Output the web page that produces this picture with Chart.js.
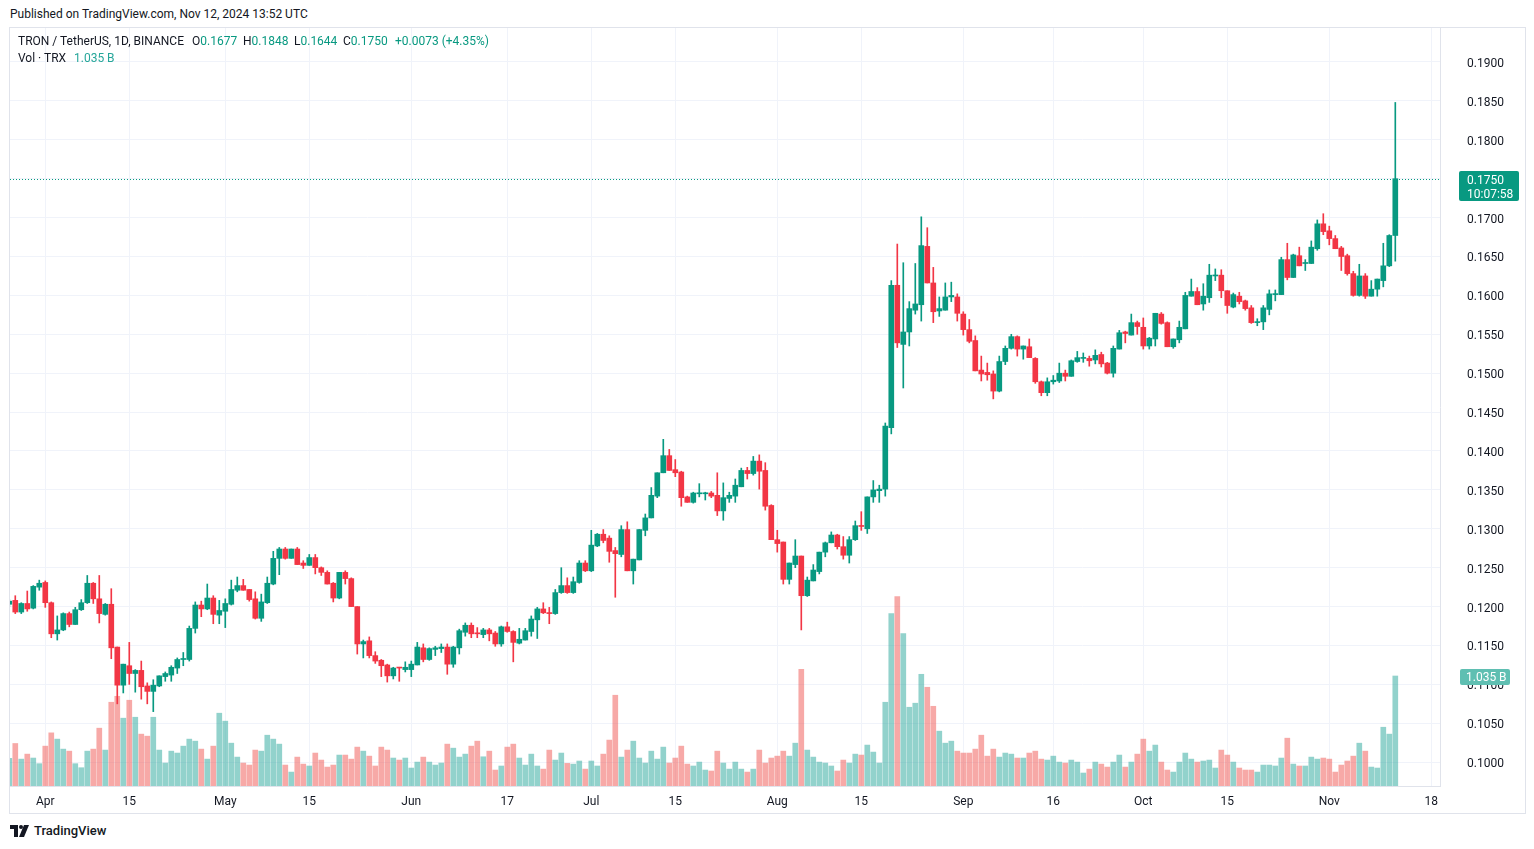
<!DOCTYPE html>
<html>
<head>
<meta charset="utf-8">
<script src="https://cdn.jsdelivr.net/npm/chart.js@4.4.0/dist/chart.umd.min.js"></script>
<style>
  html, body { margin: 0; padding: 0; background: #fff; }
  body { width: 1534px; height: 849px; position: relative; overflow: hidden;
         font-family: Roboto, 'Liberation Sans', sans-serif; color: #131722; }
  #published { position: absolute; left: 10px; top: 6px; font-size: 12px; line-height: 16px; }
  #frame { position: absolute; left: 9px; top: 27px; width: 1517px; height: 787px;
           border: 1px solid #e0e3eb; box-sizing: border-box; }
  #wrap { position: absolute; left: 10px; top: 28px; width: 1515px; height: 785px; }
  .lg { position: absolute; font-size: 12px; line-height: 16px; white-space: nowrap; }
  .g { color: #089981; }
  .v { color: #26a69a; }
  #footer { position: absolute; left: 10px; top: 823px; font-size: 13px; font-weight: 500; line-height: 16px; }
  #footer svg { vertical-align: -2px; margin-right: 4px; }
</style>
</head>
<body>
<div id="published">Published on TradingView.com, Nov 12, 2024 13:52 UTC</div>
<div id="frame"></div>
<div id="wrap"><canvas id="grafico"></canvas></div>

<div class="lg" style="left:18px;top:33px">TRON / TetherUS, 1D, BINANCE</div>
<div class="lg" style="left:192px;top:33px">O<span class="g">0.1677</span></div>
<div class="lg" style="left:243px;top:33px">H<span class="g">0.1848</span></div>
<div class="lg" style="left:294px;top:33px">L<span class="g">0.1644</span></div>
<div class="lg" style="left:343px;top:33px">C<span class="g">0.1750</span></div>
<div class="lg g" style="left:395px;top:33px">+0.0073 (+4.35%)</div>
<div class="lg" style="left:18px;top:50px">Vol · TRX</div>
<div class="lg v" style="left:74px;top:50px">1.035 B</div>

<div id="footer"><svg width="20" height="12" viewBox="0 0 20 12"><path d="M0 0h8v12H4V4H0z" fill="#131722"/><circle cx="11" cy="2" r="2" fill="#131722"/><path d="M14 0h5l-5 12H9z" fill="#131722"/></svg>TradingView</div>

<script>
// daily candles, TRX/USDT, 26 Mar - 12 Nov 2024
const startDate = '2024-03-26';

const opens = [
  0.1203, 0.1208, 0.1193, 0.1204, 0.1198, 0.1225,
  0.1231, 0.1205, 0.1165, 0.1170, 0.1191, 0.1177, 0.1196, 0.1205, 0.1230, 0.1210,
  0.1190, 0.1203, 0.1148, 0.1099, 0.1124, 0.1114, 0.1118, 0.1098, 0.1091, 0.1098,
  0.1110, 0.1112, 0.1121, 0.1132, 0.1132, 0.1172, 0.1202, 0.1197, 0.1211, 0.1189,
  0.1194, 0.1203, 0.1221, 0.1227, 0.1222, 0.1210, 0.1185, 0.1205, 0.1229, 0.1262,
  0.1274, 0.1262, 0.1274, 0.1256, 0.1253, 0.1263, 0.1250, 0.1244, 0.1230, 0.1211,
  0.1244, 0.1236, 0.1200, 0.1152, 0.1156, 0.1137, 0.1131, 0.1125, 0.1111, 0.1122, 0.1119,
  0.1119, 0.1125, 0.1147, 0.1132, 0.1145, 0.1146, 0.1148, 0.1126, 0.1147, 0.1167,
  0.1176, 0.1166, 0.1164, 0.1170, 0.1166, 0.1152, 0.1174, 0.1168, 0.1153, 0.1157,
  0.1168, 0.1183, 0.1197, 0.1192, 0.1191, 0.1218, 0.1227, 0.1218, 0.1231, 0.1256,
  0.1246, 0.1278, 0.1293, 0.1288, 0.1272, 0.1267, 0.1299, 0.1246, 0.1260, 0.1298,
  0.1314, 0.1342, 0.1372, 0.1394, 0.1376, 0.1373, 0.1341, 0.1334, 0.1345, 0.1345,
  0.1346, 0.1343, 0.1323, 0.1339, 0.1342, 0.1354, 0.1375, 0.1371, 0.1387, 0.1375, 0.1330,
  0.1286, 0.1283, 0.1235, 0.1254, 0.1265, 0.1214, 0.1233, 0.1245, 0.1270, 0.1282,
  0.1292, 0.1277, 0.1266, 0.1286, 0.1304, 0.1300, 0.1341, 0.1349, 0.1351, 0.1430,
  0.1613, 0.1537, 0.1553, 0.1581, 0.1588, 0.1663, 0.1616, 0.1580, 0.1581, 0.1598, 0.1598,
  0.1576, 0.1556, 0.1542, 0.1504, 0.1501, 0.1499, 0.1477, 0.1515, 0.1532, 0.1547,
  0.1531, 0.1534, 0.1519, 0.1489, 0.1475, 0.1489, 0.1490, 0.1500, 0.1496, 0.1515,
  0.1519, 0.1519, 0.1517, 0.1524, 0.1513, 0.1500, 0.1531, 0.1553, 0.1549, 0.1565,
  0.1559, 0.1535, 0.1544, 0.1576, 0.1565, 0.1534, 0.1543, 0.1557, 0.1599, 0.1605,
  0.1589, 0.1597, 0.1625, 0.1626, 0.1606, 0.1585, 0.1599, 0.1593, 0.1584, 0.1565,
  0.1566, 0.1582, 0.1601, 0.1601, 0.1646, 0.1623, 0.1651, 0.1641, 0.1641, 0.1660, 0.1692,
  0.1683, 0.1673, 0.1661, 0.1651, 0.1628, 0.1600, 0.1625, 0.1599, 0.1608, 0.1619,
  0.1638, 0.1677
];
const highs = [
  0.1209, 0.1214, 0.1205, 0.1220, 0.1227, 0.1234,
  0.1233, 0.1206, 0.1188, 0.1192, 0.1193, 0.1199, 0.1209, 0.1240, 0.1231, 0.1240,
  0.1204, 0.1223, 0.1148, 0.1126, 0.1154, 0.1119, 0.1130, 0.1102, 0.1106, 0.1111,
  0.1116, 0.1124, 0.1134, 0.1141, 0.1175, 0.1206, 0.1207, 0.1229, 0.1214, 0.1208,
  0.1210, 0.1234, 0.1238, 0.1235, 0.1222, 0.1219, 0.1216, 0.1238, 0.1271, 0.1276,
  0.1276, 0.1274, 0.1276, 0.1259, 0.1267, 0.1267, 0.1251, 0.1246, 0.1231, 0.1244,
  0.1246, 0.1237, 0.1200, 0.1157, 0.1161, 0.1142, 0.1132, 0.1126, 0.1122, 0.1122, 0.1129,
  0.1130, 0.1154, 0.1152, 0.1147, 0.1149, 0.1152, 0.1152, 0.1149, 0.1171, 0.1179,
  0.1179, 0.1173, 0.1172, 0.1172, 0.1168, 0.1175, 0.1180, 0.1169, 0.1172, 0.1172,
  0.1188, 0.1199, 0.1205, 0.1199, 0.1222, 0.1250, 0.1237, 0.1238, 0.1259, 0.1259,
  0.1298, 0.1294, 0.1299, 0.1291, 0.1276, 0.1304, 0.1309, 0.1261, 0.1299, 0.1319,
  0.1353, 0.1372, 0.1415, 0.1402, 0.1389, 0.1374, 0.1342, 0.1347, 0.1358, 0.1347,
  0.1348, 0.1372, 0.1359, 0.1347, 0.1364, 0.1378, 0.1379, 0.1393, 0.1395, 0.1385, 0.1331,
  0.1298, 0.1283, 0.1256, 0.1286, 0.1265, 0.1238, 0.1254, 0.1270, 0.1283, 0.1296,
  0.1293, 0.1290, 0.1290, 0.1310, 0.1322, 0.1341, 0.1362, 0.1356, 0.1436, 0.1619,
  0.1666, 0.1642, 0.1592, 0.1641, 0.1701, 0.1687, 0.1636, 0.1598, 0.1616, 0.1617, 0.1602,
  0.1579, 0.1569, 0.1548, 0.1522, 0.1513, 0.1503, 0.1522, 0.1535, 0.1550, 0.1548,
  0.1535, 0.1544, 0.1520, 0.1490, 0.1494, 0.1497, 0.1513, 0.1504, 0.1517, 0.1528,
  0.1526, 0.1522, 0.1530, 0.1527, 0.1514, 0.1535, 0.1555, 0.1554, 0.1576, 0.1567,
  0.1571, 0.1546, 0.1577, 0.1578, 0.1566, 0.1544, 0.1567, 0.1604, 0.1621, 0.1610,
  0.1615, 0.1640, 0.1634, 0.1633, 0.1606, 0.1603, 0.1604, 0.1594, 0.1587, 0.1570,
  0.1587, 0.1607, 0.1607, 0.1649, 0.1667, 0.1653, 0.1662, 0.1646, 0.1670, 0.1697, 0.1705,
  0.1689, 0.1677, 0.1663, 0.1653, 0.1631, 0.1640, 0.1628, 0.1619, 0.1621, 0.1667,
  0.1678, 0.1848
];
const lows = [
  0.1200, 0.1191, 0.1191, 0.1194, 0.1197, 0.1221,
  0.1199, 0.1160, 0.1157, 0.1169, 0.1174, 0.1177, 0.1195, 0.1204, 0.1204, 0.1179,
  0.1189, 0.1133, 0.1075, 0.1089, 0.1100, 0.1090, 0.1081, 0.1075, 0.1065, 0.1097,
  0.1104, 0.1104, 0.1114, 0.1124, 0.1130, 0.1166, 0.1187, 0.1196, 0.1178, 0.1178,
  0.1173, 0.1202, 0.1219, 0.1221, 0.1207, 0.1184, 0.1181, 0.1204, 0.1228, 0.1241,
  0.1261, 0.1262, 0.1254, 0.1249, 0.1253, 0.1242, 0.1240, 0.1229, 0.1206, 0.1210,
  0.1229, 0.1200, 0.1139, 0.1134, 0.1134, 0.1127, 0.1110, 0.1103, 0.1107, 0.1104, 0.1116,
  0.1110, 0.1125, 0.1129, 0.1131, 0.1137, 0.1141, 0.1113, 0.1122, 0.1139, 0.1162,
  0.1160, 0.1160, 0.1160, 0.1156, 0.1149, 0.1149, 0.1167, 0.1129, 0.1152, 0.1157,
  0.1162, 0.1159, 0.1191, 0.1178, 0.1190, 0.1217, 0.1217, 0.1217, 0.1230, 0.1245,
  0.1245, 0.1277, 0.1282, 0.1257, 0.1212, 0.1264, 0.1246, 0.1229, 0.1260, 0.1291,
  0.1314, 0.1340, 0.1372, 0.1375, 0.1367, 0.1329, 0.1334, 0.1333, 0.1341, 0.1337,
  0.1340, 0.1317, 0.1311, 0.1334, 0.1334, 0.1354, 0.1364, 0.1369, 0.1351, 0.1324, 0.1286,
  0.1270, 0.1229, 0.1229, 0.1250, 0.1170, 0.1213, 0.1233, 0.1242, 0.1264, 0.1282,
  0.1274, 0.1261, 0.1256, 0.1285, 0.1298, 0.1294, 0.1334, 0.1334, 0.1342, 0.1422,
  0.1533, 0.1481, 0.1535, 0.1576, 0.1567, 0.1616, 0.1565, 0.1573, 0.1581, 0.1592, 0.1567,
  0.1549, 0.1539, 0.1503, 0.1490, 0.1491, 0.1467, 0.1476, 0.1511, 0.1531, 0.1522,
  0.1518, 0.1520, 0.1487, 0.1471, 0.1471, 0.1486, 0.1488, 0.1490, 0.1496, 0.1514,
  0.1514, 0.1509, 0.1512, 0.1508, 0.1499, 0.1495, 0.1531, 0.1539, 0.1549, 0.1550,
  0.1531, 0.1531, 0.1535, 0.1563, 0.1534, 0.1532, 0.1539, 0.1557, 0.1599, 0.1588,
  0.1581, 0.1591, 0.1619, 0.1597, 0.1577, 0.1584, 0.1589, 0.1581, 0.1564, 0.1561,
  0.1556, 0.1575, 0.1593, 0.1601, 0.1620, 0.1623, 0.1638, 0.1632, 0.1641, 0.1658, 0.1678,
  0.1665, 0.1660, 0.1632, 0.1626, 0.1599, 0.1599, 0.1596, 0.1599, 0.1599, 0.1611,
  0.1637, 0.1644
];
const closes = [
  0.1207, 0.1193, 0.1204, 0.1197, 0.1226, 0.1230,
  0.1205, 0.1165, 0.1170, 0.1191, 0.1177, 0.1196, 0.1205, 0.1230, 0.1210, 0.1191,
  0.1203, 0.1147, 0.1099, 0.1126, 0.1114, 0.1118, 0.1097, 0.1091, 0.1099, 0.1111,
  0.1114, 0.1122, 0.1132, 0.1133, 0.1172, 0.1202, 0.1197, 0.1211, 0.1190, 0.1195,
  0.1204, 0.1222, 0.1227, 0.1221, 0.1209, 0.1185, 0.1206, 0.1230, 0.1262, 0.1274,
  0.1262, 0.1274, 0.1254, 0.1253, 0.1263, 0.1250, 0.1244, 0.1229, 0.1211, 0.1244,
  0.1236, 0.1200, 0.1152, 0.1155, 0.1137, 0.1130, 0.1124, 0.1111, 0.1121, 0.1121, 0.1122,
  0.1126, 0.1148, 0.1132, 0.1146, 0.1147, 0.1148, 0.1126, 0.1148, 0.1169, 0.1176,
  0.1165, 0.1165, 0.1170, 0.1165, 0.1152, 0.1174, 0.1168, 0.1154, 0.1158, 0.1169,
  0.1184, 0.1197, 0.1192, 0.1191, 0.1218, 0.1227, 0.1218, 0.1232, 0.1256, 0.1246,
  0.1279, 0.1293, 0.1285, 0.1271, 0.1268, 0.1299, 0.1246, 0.1261, 0.1299, 0.1314,
  0.1343, 0.1372, 0.1394, 0.1375, 0.1372, 0.1340, 0.1334, 0.1346, 0.1346, 0.1346,
  0.1342, 0.1323, 0.1340, 0.1343, 0.1356, 0.1375, 0.1371, 0.1387, 0.1374, 0.1329, 0.1286,
  0.1281, 0.1235, 0.1256, 0.1265, 0.1214, 0.1234, 0.1247, 0.1270, 0.1282, 0.1292,
  0.1277, 0.1266, 0.1286, 0.1304, 0.1303, 0.1341, 0.1350, 0.1351, 0.1432, 0.1613,
  0.1539, 0.1553, 0.1583, 0.1589, 0.1664, 0.1616, 0.1579, 0.1583, 0.1598, 0.1600, 0.1577,
  0.1556, 0.1541, 0.1503, 0.1499, 0.1498, 0.1477, 0.1515, 0.1532, 0.1547, 0.1531,
  0.1535, 0.1520, 0.1489, 0.1475, 0.1489, 0.1491, 0.1500, 0.1496, 0.1516, 0.1520,
  0.1520, 0.1516, 0.1523, 0.1512, 0.1500, 0.1532, 0.1552, 0.1551, 0.1565, 0.1560,
  0.1535, 0.1545, 0.1577, 0.1564, 0.1534, 0.1544, 0.1559, 0.1600, 0.1605, 0.1588,
  0.1599, 0.1626, 0.1626, 0.1606, 0.1587, 0.1601, 0.1592, 0.1583, 0.1565, 0.1566,
  0.1584, 0.1602, 0.1602, 0.1646, 0.1623, 0.1652, 0.1638, 0.1642, 0.1662, 0.1692, 0.1682,
  0.1673, 0.1660, 0.1650, 0.1628, 0.1600, 0.1625, 0.1599, 0.1608, 0.1621, 0.1638,
  0.1677, 0.1750
];
// volume in millions of TRX
const volumes = [
  260, 400, 253, 300, 263, 210,
  375, 500, 441, 347, 328, 210, 172, 328, 347, 544,
  338, 788, 844, 638, 807, 647, 488, 469, 647, 338,
  216, 328, 310, 375, 441, 422, 347, 253, 375, 685,
  610, 403, 272, 216, 197, 338, 328, 478, 441, 394,
  197, 131, 272, 206, 188, 310, 244, 178, 197, 291,
  291, 253, 366, 328, 281, 188, 366, 338, 263, 244, 263,
  169, 225, 272, 225, 197, 216, 394, 356, 272, 300,
  375, 422, 275, 328, 150, 188, 366, 394, 263, 197,
  300, 188, 159, 338, 244, 310, 213, 206, 235, 159,
  235, 188, 300, 432, 854, 272, 338, 422, 263, 216,
  328, 253, 366, 216, 263, 375, 206, 188, 225, 150,
  141, 328, 216, 159, 225, 159, 131, 159, 338, 216, 263,
  281, 328, 281, 403, 1098, 338, 272, 225, 216, 188,
  141, 244, 216, 300, 291, 385, 319, 216, 788, 1623,
  1782, 1435, 741, 779, 1051, 929, 750, 516, 403, 422, 328,
  310, 310, 347, 478, 281, 347, 272, 310, 300, 263,
  263, 310, 328, 253, 244, 281, 225, 216, 244, 225,
  122, 159, 225, 206, 178, 225, 291, 178, 225, 300,
  441, 328, 385, 225, 150, 131, 225, 310, 253, 225,
  235, 244, 169, 338, 291, 225, 169, 150, 150, 131,
  197, 197, 188, 263, 450, 206, 188, 188, 272, 253, 263,
  253, 131, 197, 235, 281, 403, 328, 178, 169, 553,
  488, 1035
];

const priceTicks = [0.1000, 0.1050, 0.1100, 0.1150, 0.1200, 0.1250, 0.1300, 0.1350, 0.1400,
  0.1450, 0.1500, 0.1550, 0.1600, 0.1650, 0.1700, 0.1750, 0.1800, 0.1850, 0.1900];
const timeTickDates = ['2024-04-01', '2024-04-15', '2024-05-01', '2024-05-15', '2024-06-01', '2024-06-17',
  '2024-07-01', '2024-07-15', '2024-08-01', '2024-08-15', '2024-09-01', '2024-09-16',
  '2024-10-01', '2024-10-15', '2024-11-01', '2024-11-18'];
const timeTickNames = ['Apr', '15', 'May', '15', 'Jun', '17', 'Jul', '15', 'Aug', '15', 'Sep', '16',
  'Oct', '15', 'Nov', '18'];
const lastTimer = '10:07:58';

window.onload = function () {
    desenharGrafico();
};

function desenharGrafico() {
    const corAlta = '#089981';
    const corBaixa = '#f23645';
    const volAlta = 'rgba(38, 166, 154, 0.5)';
    const volBaixa = 'rgba(239, 83, 80, 0.5)';
    const dia = 86400000;
    const origem = Date.parse('2024-04-01');
    const inicio = (Date.parse(startDate) - origem) / dia;

    const xs = opens.map((_, i) => inicio + i);
    const sobe = opens.map((o, i) => closes[i] >= o);
    const tickDias = timeTickDates.map(d => (Date.parse(d) - origem) / dia);

    const corpos = xs.map((x, i) => ({ x, y: [opens[i], closes[i]] }));
    const pavios = xs.map((x, i) => ({ x, y: [lows[i], highs[i]] }));
    const vols = xs.map((x, i) => ({ x, y: volumes[i] }));
    const ultimo = closes.length - 1;

    // no extra padding around the plot: the axis sizes are fixed by hand
    const semPadding = s => {
        s.paddingTop = 0;
        s.paddingBottom = 0;
        s.paddingLeft = 0;
        s.paddingRight = 0;
    };

    const sobreposicao = {
        id: 'sobreposicao',
        beforeDatasetsDraw(chart) {
            const { ctx, chartArea } = chart;
            const y = Math.round(chart.scales.y.getPixelForValue(closes[ultimo])) + 0.5;
            ctx.save();
            ctx.strokeStyle = corAlta;
            ctx.lineWidth = 1;
            ctx.setLineDash([1, 2]);
            ctx.beginPath();
            ctx.moveTo(chartArea.left, y);
            ctx.lineTo(chartArea.right, y);
            ctx.stroke();
            ctx.restore();
        },
        afterDraw(chart) {
            const { ctx, chartArea } = chart;
            const x0 = chartArea.right + 19;
            ctx.save();
            ctx.font = '12px Roboto, "Liberation Sans", sans-serif';
            ctx.textBaseline = 'middle';

            // last price badge
            const yp = chart.scales.y.getPixelForValue(closes[ultimo]);
            ctx.fillStyle = corAlta;
            ctx.beginPath();
            ctx.roundRect(x0, Math.round(yp) - 8, 60, 30, 2);
            ctx.fill();
            ctx.fillStyle = '#fff';
            ctx.fillText(closes[ultimo].toFixed(4), x0 + 8, yp + 2);
            ctx.fillText(lastTimer, x0 + 8, yp + 16);

            // volume badge
            const yv = chart.scales.yv.getPixelForValue(volumes[ultimo]);
            ctx.fillStyle = '#5fbfb2';
            ctx.beginPath();
            ctx.roundRect(x0 + 1, Math.round(yv) - 7, 50, 16, 2);
            ctx.fill();
            ctx.fillStyle = '#fff';
            ctx.fillText((volumes[ultimo] / 1000).toFixed(3) + ' B', x0 + 7, yv + 2);
            ctx.restore();
        }
    };

    const ctx = document.getElementById('grafico').getContext('2d');
    new Chart(ctx, {
        type: 'bar',
        data: {
            datasets: [
                {
                    data: corpos,
                    backgroundColor: sobe.map(s => s ? corAlta : corBaixa),
                    barThickness: 5,
                    minBarLength: 1,
                    grouped: false,
                    yAxisID: 'y',
                    order: 1
                },
                {
                    data: pavios,
                    backgroundColor: sobe.map(s => s ? corAlta : corBaixa),
                    barThickness: 1,
                    grouped: false,
                    yAxisID: 'y',
                    order: 2
                },
                {
                    data: vols,
                    backgroundColor: sobe.map(s => s ? volAlta : volBaixa),
                    barThickness: 5,
                    grouped: false,
                    yAxisID: 'yv',
                    order: 3
                }
            ]
        },
        options: {
            responsive: true,
            maintainAspectRatio: false,
            animation: false,
            events: [],
            layout: { padding: 0 },
            plugins: { legend: { display: false }, tooltip: { enabled: false } },
            scales: {
                x: {
                    type: 'linear',
                    offset: false,
                    min: -5.88,
                    max: 232.45,
                    afterBuildTicks: s => { s.ticks = tickDias.map(v => ({ value: v })); },
                    afterFit: s => { s.height = 27; semPadding(s); },
                    grid: { color: '#f0f3fa', drawTicks: false, offset: false },
                    border: { color: '#e0e3eb' },
                    ticks: {
                        padding: 9,
                        maxRotation: 0,
                        autoSkip: false,
                        color: '#131722',
                        font: { size: 12, family: 'Roboto' },
                        callback: (v, i) => timeTickNames[i]
                    }
                },
                y: {
                    position: 'right',
                    min: 0.09694,
                    max: 0.19437,
                    afterBuildTicks: s => { s.ticks = priceTicks.map(v => ({ value: v })); },
                    afterFit: s => { s.width = 85; semPadding(s); },
                    grid: { color: '#f0f3fa', drawTicks: false },
                    border: { color: '#e0e3eb' },
                    ticks: {
                        padding: 27,
                        labelOffset: 2,
                        color: '#131722',
                        font: { size: 12, family: 'Roboto' },
                        callback: v => v.toFixed(4)
                    }
                },
                yv: {
                    display: false,
                    min: 0,
                    max: 7132
                }
            }
        },
        plugins: [sobreposicao]
    });
}
</script>
</body>
</html>
